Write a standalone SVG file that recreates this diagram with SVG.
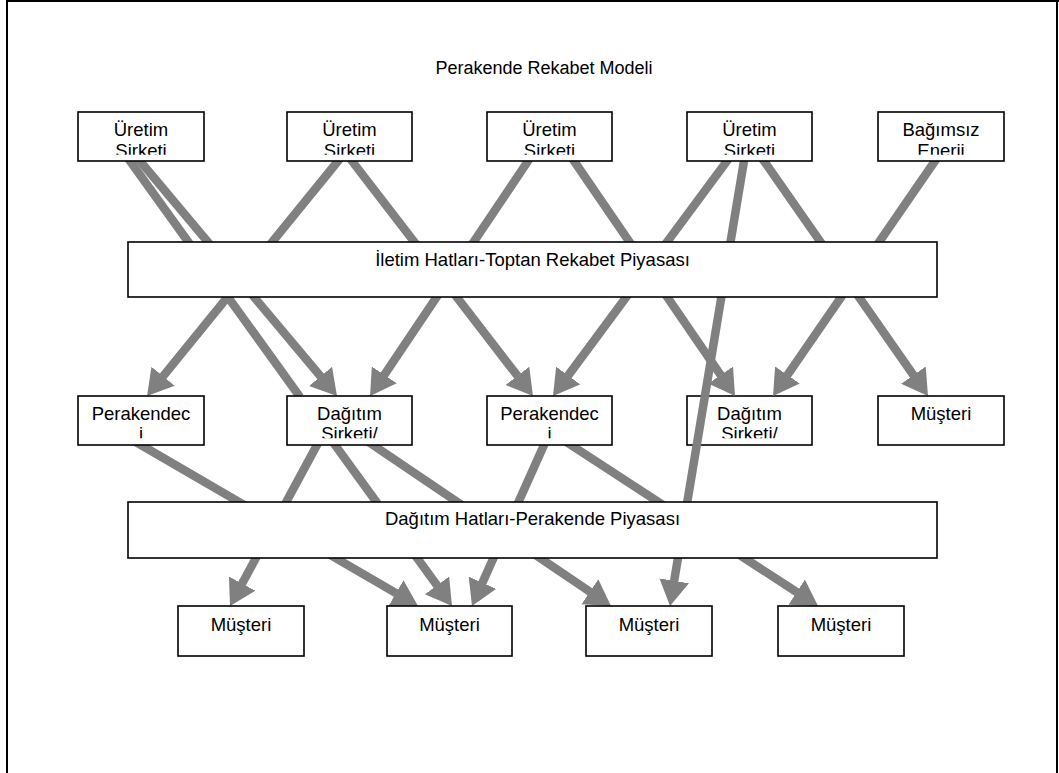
<svg xmlns="http://www.w3.org/2000/svg" width="1059" height="773" viewBox="0 0 1059 773">
<style>
.box{fill:#fff;stroke:#000;stroke-width:1.6}
.t{font-family:"Liberation Sans",Arial,sans-serif;font-size:18.5px;fill:#000;text-anchor:middle}
.c{fill:none;stroke:#808080;stroke-width:8.5}
.a{marker-end:url(#ah)}
.frame{stroke:#000;stroke-width:2;fill:none}
</style>
<defs>
<marker id="ah" markerUnits="userSpaceOnUse" markerWidth="26" markerHeight="31" viewBox="0 0 26 31" refX="0.5" refY="15.5" orient="auto">
<path d="M0,0.5 L25.5,15.5 L0,30.5 z" fill="#808080"/>
</marker>
<clipPath id="clipTop" clipPathUnits="userSpaceOnUse"><rect x="0" y="112" width="1059" height="42.8"/></clipPath>
<clipPath id="clipMid" clipPathUnits="userSpaceOnUse"><rect x="0" y="396" width="1059" height="42.3"/></clipPath>
</defs>
<rect width="1059" height="773" fill="#fff"/>
<g id="frame">
<line class="frame" x1="7" y1="0" x2="7" y2="773"/>
<line class="frame" x1="6" y1="1" x2="1059" y2="1"/>
<line class="frame" x1="1057" y1="0" x2="1057" y2="773"/>
</g>
<text id="title" class="t" x="544" y="74" style="font-size:18px">Perakende Rekabet Modeli</text>
<g id="n-dagitim2">
<rect class="box" x="687" y="396" width="125" height="49"/>
<text class="t" x="749.5" y="419.5" clip-path="url(#clipMid)">Dağıtım<tspan x="749.5" dy="20.5">Sirketi/</tspan></text>
</g>
<g id="connectors">
<path class="c a" d="M135.8,156 L320.9,376.8"/>
<path class="c" d="M126.4,156 L300,397"/>
<path class="c a" d="M342.1,156 L162.8,376.6"/>
<path class="c a" d="M348.1,156 L517.7,376.2"/>
<path class="c a" d="M531.4,156 L384.0,375.3"/>
<path class="c a" d="M570.6,156 L720.9,375.4"/>
<path class="c a" d="M730.7,156 L567.9,375.9"/>
<path class="c a" d="M744.8,156 L674.1,581.3"/>
<path class="c a" d="M760.5,156 L913.7,375.5"/>
<path class="c a" d="M938.4,156 L787.2,375.4"/>
<path class="c a" d="M132.4,440 L396.4,593.4"/>
<path class="c a" d="M319.7,440 L241.9,584.0"/>
<path class="c a" d="M331.4,440 L437.3,585.8"/>
<path class="c a" d="M365.6,440 L590.3,592.0"/>
<path class="c a" d="M546.2,440 L482.2,583.2"/>
<path class="c a" d="M563.3,440 L797.1,592.4"/>
</g>
<g id="n-uretim1">
<rect class="box" x="78" y="112" width="126" height="49"/>
<text class="t" x="141" y="136" clip-path="url(#clipTop)">Üretim<tspan x="141" dy="21">Sirketi</tspan></text>
</g>
<g id="n-uretim2">
<rect class="box" x="287" y="112" width="125" height="49"/>
<text class="t" x="349.5" y="136" clip-path="url(#clipTop)">Üretim<tspan x="349.5" dy="21">Sirketi</tspan></text>
</g>
<g id="n-uretim3">
<rect class="box" x="487" y="112" width="125" height="49"/>
<text class="t" x="549.5" y="136" clip-path="url(#clipTop)">Üretim<tspan x="549.5" dy="21">Sirketi</tspan></text>
</g>
<g id="n-uretim4">
<rect class="box" x="687" y="112" width="125" height="49"/>
<text class="t" x="749.5" y="136" clip-path="url(#clipTop)">Üretim<tspan x="749.5" dy="21">Sirketi</tspan></text>
</g>
<g id="n-bagimsiz">
<rect class="box" x="878" y="112" width="126" height="49"/>
<text class="t" x="941" y="136" clip-path="url(#clipTop)">Bağımsız<tspan x="941" dy="21">Enerji</tspan></text>
</g>
<g id="n-iletim">
<rect class="box" x="128" y="242" width="809" height="55"/>
<text class="t" x="532.5" y="266">İletim Hatları-Toptan Rekabet Piyasası</text>
</g>
<g id="n-perakendeci1">
<rect class="box" x="78" y="396" width="126" height="49"/>
<text class="t" x="141" y="419.5" clip-path="url(#clipMid)">Perakendec<tspan x="141" dy="20.5">i</tspan></text>
</g>
<g id="n-dagitim1">
<rect class="box" x="287" y="396" width="125" height="49"/>
<text class="t" x="349.5" y="419.5" clip-path="url(#clipMid)">Dağıtım<tspan x="349.5" dy="20.5">Sirketi/</tspan></text>
</g>
<g id="n-perakendeci2">
<rect class="box" x="487" y="396" width="125" height="49"/>
<text class="t" x="549.5" y="419.5" clip-path="url(#clipMid)">Perakendec<tspan x="549.5" dy="20.5">i</tspan></text>
</g>
<g id="n-musteri0">
<rect class="box" x="878" y="396" width="126" height="49"/>
<text class="t" x="941" y="419.5">Müşteri</text>
</g>
<g id="n-dagitimhat">
<rect class="box" x="128" y="502" width="809" height="56"/>
<text class="t" x="532.5" y="525">Dağıtım Hatları-Perakende Piyasası</text>
</g>
<g id="n-musteri1">
<rect class="box" x="178" y="606" width="126" height="50"/>
<text class="t" x="241" y="631">Müşteri</text>
</g>
<g id="n-musteri2">
<rect class="box" x="387" y="606" width="125" height="50"/>
<text class="t" x="449.5" y="631">Müşteri</text>
</g>
<g id="n-musteri3">
<rect class="box" x="586" y="606" width="126" height="50"/>
<text class="t" x="649" y="631">Müşteri</text>
</g>
<g id="n-musteri4">
<rect class="box" x="778" y="606" width="126" height="50"/>
<text class="t" x="841" y="631">Müşteri</text>
</g>
</svg>
